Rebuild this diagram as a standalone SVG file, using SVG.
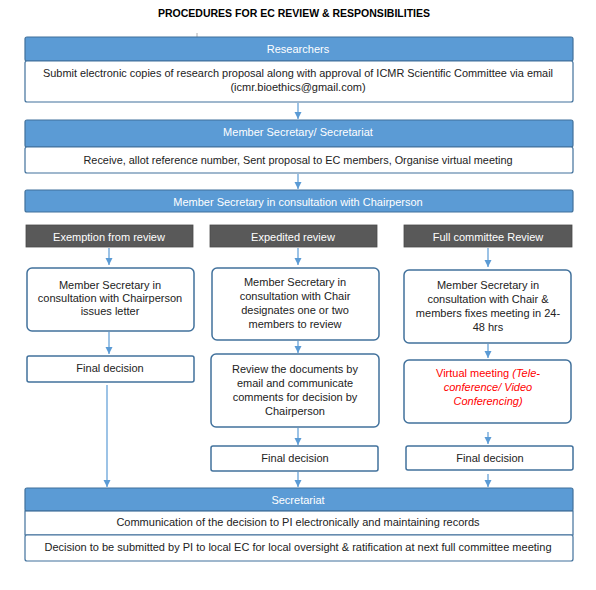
<svg xmlns="http://www.w3.org/2000/svg" width="596" height="590" viewBox="0 0 596 590">
<style>
.hdr{fill:#5B9BD5;stroke:#41719C;stroke-width:1.2}
.body{fill:#fff;stroke:#41719C;stroke-width:1.2}
.dark{fill:#595959;stroke:#4a4a4a;stroke-width:0.8}
.box{fill:#fff;stroke:#41719C;stroke-width:1.5}
text{font-family:"Liberation Sans",Arial,sans-serif;font-size:11px;text-anchor:middle;dominant-baseline:central}
.w{fill:#fff}
.k{fill:#222}
.r{fill:#FF0000}
.title{font-weight:bold;font-size:11px;fill:#000}
.con{stroke:#5B9BD5;stroke-width:1.2;fill:none}
</style>
<defs>
<marker id="ah" markerUnits="userSpaceOnUse" markerWidth="8" markerHeight="8" refX="7" refY="4" orient="auto">
<path d="M0,0.5 L7,4 L0,7.5 z" fill="#5B9BD5"/>
</marker>
</defs>
<text class="title" x="294" y="13" textLength="272" lengthAdjust="spacingAndGlyphs">PROCEDURES FOR EC REVIEW &amp; RESPONSIBILITIES</text>
<line x1="197" y1="33" x2="197" y2="47" stroke="#999" stroke-width="0.8"/>

<g id="researchers">
<rect class="hdr" x="25" y="37" width="548" height="24" rx="2"/>
<text class="w" x="298" y="49">Researchers</text>
<rect class="body" x="25" y="61" width="548" height="41" rx="2"/>
<text class="k" x="298" y="73" textLength="510" lengthAdjust="spacingAndGlyphs">Submit electronic copies of research proposal along with approval of ICMR Scientific Committee  via email</text>
<text class="k" x="298" y="87">(icmr.bioethics@gmail.com)</text>
</g>

<g id="member-secretary">
<rect class="hdr" x="25" y="120" width="548" height="27" rx="2"/>
<text class="w" x="298" y="132">Member Secretary/ Secretariat</text>
<rect class="body" x="25" y="147" width="548" height="26" rx="2"/>
<text class="k" x="298" y="160" textLength="429" lengthAdjust="spacingAndGlyphs">Receive, allot reference number, Sent proposal to EC members, Organise virtual meeting</text>
</g>

<g id="consultation">
<rect class="hdr" x="25" y="190" width="548" height="22" rx="2"/>
<text class="w" x="298" y="202">Member Secretary in consultation with Chairperson</text>
</g>

<g id="exemption-head">
<rect class="dark" x="26" y="225" width="167" height="22"/>
<text class="w" x="109" y="237">Exemption from review</text>
</g>
<g id="expedited-head">
<rect class="dark" x="210" y="225" width="167" height="22"/>
<text class="w" x="293" y="237">Expedited review</text>
</g>
<g id="full-head">
<rect class="dark" x="404" y="225" width="168" height="22"/>
<text class="w" x="488" y="237">Full committee Review</text>
</g>

<g id="exemption-box">
<rect class="box" x="27" y="268" width="167" height="63" rx="5"/>
<text class="k" x="110" y="285">Member Secretary in</text>
<text class="k" x="110" y="298">consultation with Chairperson</text>
<text class="k" x="110" y="311">issues letter</text>
</g>
<g id="expedited-box">
<rect class="box" x="212" y="268" width="167" height="72" rx="5"/>
<text class="k" x="295" y="282">Member Secretary in</text>
<text class="k" x="295" y="296">consultation with Chair</text>
<text class="k" x="295" y="310">designates one or two</text>
<text class="k" x="295" y="324">members to review</text>
</g>
<g id="full-box">
<rect class="box" x="404" y="270" width="167" height="73" rx="5"/>
<text class="k" x="488" y="285">Member Secretary in</text>
<text class="k" x="488" y="299">consultation with Chair &amp;</text>
<text class="k" x="488" y="313">members fixes meeting in 24-</text>
<text class="k" x="488" y="327">48 hrs</text>
</g>

<g id="exemption-final">
<rect class="box" x="27" y="356" width="167" height="26" rx="2"/>
<text class="k" x="110" y="368">Final decision</text>
</g>
<g id="review-box">
<rect class="box" x="211" y="354" width="168" height="73" rx="5"/>
<text class="k" x="295" y="369">Review the documents by</text>
<text class="k" x="295" y="383">email and communicate</text>
<text class="k" x="295" y="397">comments for decision by</text>
<text class="k" x="295" y="411">Chairperson</text>
</g>
<g id="virtual-box">
<rect class="box" x="404" y="360" width="167" height="63" rx="5"/>
<text class="r" x="488" y="373">Virtual meeting <tspan font-style="italic">(Tele-</tspan></text>
<text class="r" x="488" y="387" font-style="italic">conference/ Video</text>
<text class="r" x="488" y="401" font-style="italic">Conferencing)</text>
</g>
<g id="expedited-final">
<rect class="box" x="211" y="446" width="167" height="25" rx="2"/>
<text class="k" x="295" y="458">Final decision</text>
</g>
<g id="full-final">
<rect class="box" x="406" y="446" width="167" height="24" rx="2"/>
<text class="k" x="490" y="458">Final decision</text>
</g>

<g id="secretariat">
<rect class="hdr" x="25" y="488" width="548" height="23" rx="2"/>
<text class="w" x="298" y="500">Secretariat</text>
<rect class="body" x="25" y="511" width="548" height="24"/>
<text class="k" x="298" y="522">Communication of the decision to PI electronically and maintaining records</text>
<rect class="body" x="25" y="535" width="548" height="26" rx="2"/>
<text class="k" x="298" y="547" textLength="507" lengthAdjust="spacingAndGlyphs">Decision to be submitted by PI to local EC for local oversight &amp; ratification at next full committee meeting</text>
</g>

<g id="connectors">
<line class="con" x1="298" y1="103" x2="298" y2="119" marker-end="url(#ah)"/>
<line class="con" x1="298" y1="174" x2="298" y2="189" marker-end="url(#ah)"/>
<line class="con" x1="109" y1="248" x2="109" y2="265" marker-end="url(#ah)"/>
<line class="con" x1="298" y1="248" x2="298" y2="265" marker-end="url(#ah)"/>
<line class="con" x1="488" y1="248" x2="488" y2="267" marker-end="url(#ah)"/>
<line class="con" x1="109" y1="332" x2="109" y2="354" marker-end="url(#ah)"/>
<line class="con" x1="298" y1="341" x2="298" y2="353" marker-end="url(#ah)"/>
<line class="con" x1="488" y1="344" x2="488" y2="358" marker-end="url(#ah)"/>
<line class="con" x1="298" y1="428" x2="298" y2="445" marker-end="url(#ah)"/>
<line class="con" x1="488" y1="432" x2="488" y2="444" marker-end="url(#ah)"/>
<line class="con" x1="107" y1="385" x2="107" y2="487" stroke-width="0.8" marker-end="url(#ah)"/>
<line class="con" x1="298" y1="472" x2="298" y2="487" marker-end="url(#ah)"/>
<line class="con" x1="488" y1="474" x2="488" y2="487" marker-end="url(#ah)"/>
</g>
</svg>
